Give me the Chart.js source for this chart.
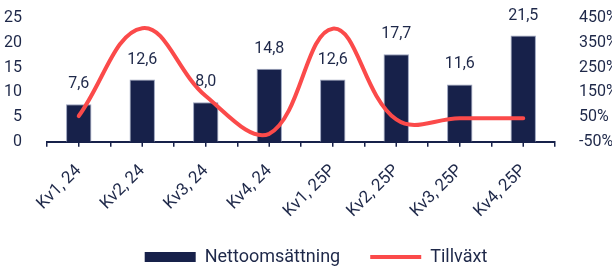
<!DOCTYPE html>
<html><head><meta charset="utf-8">
<script src="https://cdn.jsdelivr.net/npm/chart.js@4/dist/chart.umd.min.js"></script>
<style>html,body{margin:0;padding:0;background:#fff}#wrap{width:612px;height:269px;position:relative}</style>
</head><body><div id="wrap"><canvas id="c"></canvas></div>
<script>
const categories = ['Kv1, 24','Kv2, 24','Kv3, 24','Kv4, 24','Kv1, 25P','Kv2, 25P','Kv3, 25P','Kv4, 25P'];
const nettoomsattning = [7.6, 12.6, 8.0, 14.8, 12.6, 17.7, 11.6, 21.5];
const tillvaxt = [54, 410, 135, -18, 408, 40, 45, 45];
const leftAxis = {min: 0, max: 25, step: 5};
const rightAxis = {min: -50, max: 450, step: 100};

const NAVY = '#17214a';
const TEXT = '#1e2849';
const RED = '#fb4a4a';
const FONT = 'Roboto';

const barLabels = {
  id: 'barLabels',
  afterDatasetsDraw(chart) {
    const ctx = chart.ctx;
    const meta = chart.getDatasetMeta(0);
    ctx.save();
    ctx.font = '16px ' + FONT;
    ctx.fillStyle = TEXT;
    ctx.textAlign = 'center';
    ctx.textBaseline = 'middle';
    meta.data.forEach((el, i) => {
      ctx.fillText(nettoomsattning[i].toFixed(1).replace('.', ','), el.x, el.y - 20);
    });
    ctx.restore();
  }
};

const centerTicks = {
  id: 'centerTicks',
  afterDraw(chart) {
    const x = chart.scales.x;
    const ctx = chart.ctx;
    ctx.save();
    ctx.strokeStyle = NAVY;
    ctx.lineWidth = 1.5;
    categories.forEach((c, i) => {
      const px = x.getPixelForValue(i);
      ctx.beginPath();
      ctx.moveTo(px, x.top);
      ctx.lineTo(px, x.top + 5);
      ctx.stroke();
    });
    ctx.restore();
  }
};

const layoutTweak = {
  id: 'layoutTweak',
  afterLayout(chart) {
    chart.legend.top += 7;
    chart.legend.bottom += 7;
    chart.legend.left += 20;
    const x = chart.scales.x;
    x.bottom = chart.height;
    x.height = x.bottom - x.top;
  }
};

const noPad = s => { s.paddingTop = 0; s.paddingBottom = 0; };

new Chart(document.getElementById('c'), {
  data: {
    labels: categories,
    datasets: [
      {
        type: 'bar', label: 'Nettoomsättning', data: nettoomsattning,
        backgroundColor: NAVY, borderColor: '#9aa2bd', borderWidth: 1,
        categoryPercentage: 1, barPercentage: 0.4, yAxisID: 'y', order: 2
      },
      {
        type: 'line', label: 'Tillväxt', data: tillvaxt,
        borderColor: RED, backgroundColor: RED, borderWidth: 4,
        pointRadius: 0, tension: 0.4, borderCapStyle: 'round', borderJoinStyle: 'round',
        yAxisID: 'y1', order: 1
      }
    ]
  },
  options: {
    responsive: true, maintainAspectRatio: false, animation: false, devicePixelRatio: 1,
    layout: {padding: {top: 18.3, left: 0, right: 0, bottom: 0}},
    scales: {
      x: {
        offset: true,
        grid: {display: true, drawOnChartArea: false, offset: true, tickLength: 5, color: NAVY, lineWidth: 1.5},
        border: {display: true, color: NAVY, width: 2},
        ticks: {minRotation: 45, maxRotation: 45, padding: 14, color: TEXT, font: {family: FONT, size: 17}},
        afterFit(s) { s.height = 69.3; noPad(s); }
      },
      y: {
        position: 'left', min: leftAxis.min, max: leftAxis.max,
        grid: {display: false}, border: {display: false},
        ticks: {stepSize: leftAxis.step, padding: 17, color: TEXT, font: {family: FONT, size: 16}},
        afterFit(s) { s.width = 47; noPad(s); }
      },
      y1: {
        position: 'right', min: rightAxis.min, max: rightAxis.max,
        grid: {display: false}, border: {display: false},
        ticks: {stepSize: rightAxis.step, padding: 16, color: TEXT, font: {family: FONT, size: 16},
          callback: v => v + '%'},
        afterFit(s) { s.width = 57; noPad(s); }
      }
    },
    plugins: {
      tooltip: {enabled: false},
      legend: {
        position: 'bottom',
        labels: {
          usePointStyle: true, pointStyleWidth: 51, boxHeight: 10, padding: 30,
          color: TEXT, font: {family: FONT, size: 18},
          sort: (a, b) => a.datasetIndex - b.datasetIndex,
          generateLabels(chart) {
            return chart.data.datasets.map((ds, i) => ({
              text: ds.label, datasetIndex: i,
              fillStyle: ds.type === 'bar' ? NAVY : RED,
              strokeStyle: ds.type === 'bar' ? NAVY : RED,
              lineWidth: ds.type === 'bar' ? 0 : 4,
              pointStyle: ds.type === 'bar' ? 'rect' : 'line',
              fontColor: TEXT, hidden: false
            }));
          }
        }
      }
    }
  },
  plugins: [barLabels, centerTicks, layoutTweak]
});
</script>
</body></html>
